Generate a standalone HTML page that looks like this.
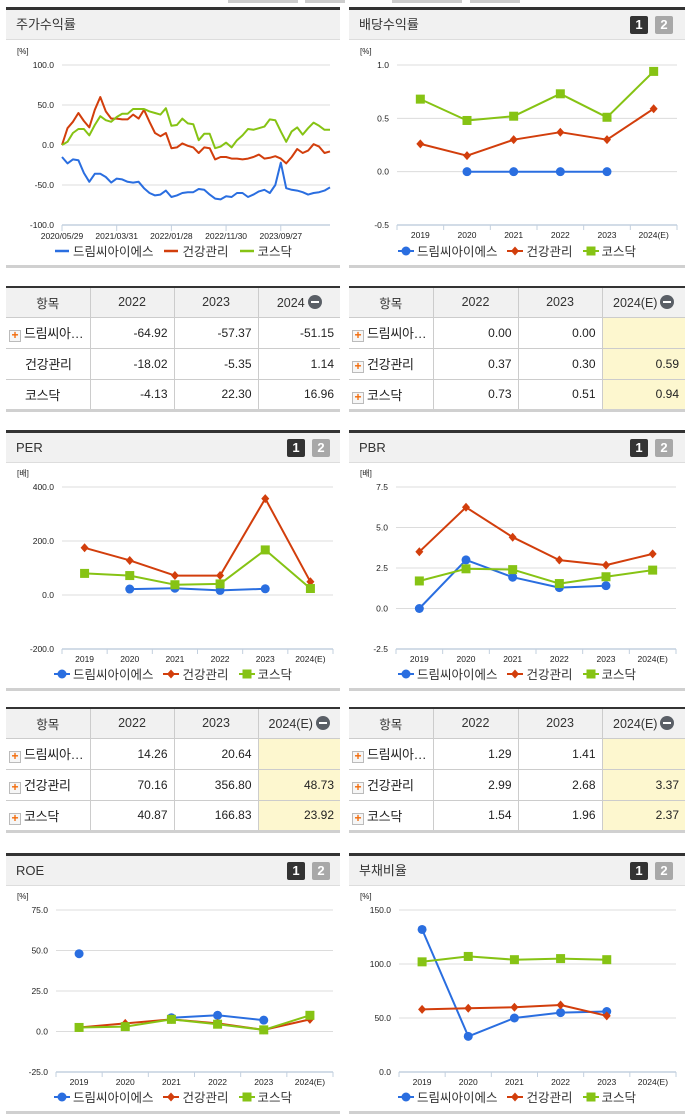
<!DOCTYPE html>
<html><head><meta charset="utf-8">
<style>
*{margin:0;padding:0;box-sizing:border-box}
body{width:691px;height:1115px;position:relative;background:#fff;font-family:"Liberation Sans","Noto Sans CJK KR",sans-serif;overflow:hidden;color:#333}
.abs{position:absolute}
.panel{position:absolute;border-top:3px solid #333;border-bottom:3px solid #d0d0d0}
.hdr{position:absolute;left:0;right:0;top:0;height:30px;background:#f1f1f1;border-bottom:1px solid #ddd;font-size:13px;line-height:30px;padding-left:10px;color:#333}
.b1,.b2{position:absolute;top:6px;width:18px;height:18px;border-radius:2px;color:#fff;font-weight:bold;font-size:13px;line-height:18px;text-align:center}
.b1{background:#333}.b2{background:#a8a8a8}
.legend{position:absolute;left:0;right:0;display:flex;justify-content:center;align-items:center;font-size:12.5px;color:#333;gap:10px}
.legend span{display:flex;align-items:center;gap:3px}
table{position:absolute;border-collapse:collapse;font-size:12px;table-layout:fixed;border-top:2px solid #333;border-bottom:3px solid #d0d0d0}
td,th{border:1px solid #ccc;height:31px;font-weight:normal;white-space:nowrap;overflow:hidden}
th{background:#f1f1f1;text-align:center;height:30px;font-size:12.5px}
td{text-align:right;padding-right:6px;color:#222}
td.nm{text-align:left;padding-left:3px;padding-right:0;font-size:13px;color:#222;letter-spacing:-0.3px}
td.hl{background:#fdf7cf}
tr td:first-child,tr th:first-child{border-left:none}
tr td:last-child,tr th:last-child{border-right:none}
.pl{display:inline-block;width:12px;height:12px;border:1px solid #bbb;background:#f6f6f6;color:#f26b0a;font-size:12px;line-height:9px;text-align:center;font-weight:bold;vertical-align:-1px;margin-right:3px;letter-spacing:0}
.sp{display:inline-block;width:16px}
.mi{display:inline-block;width:14px;height:14px;border-radius:7px;background:#5a5f66;vertical-align:-2px;margin-left:3px;position:relative}
.mi:after{content:"";position:absolute;left:3px;top:6px;width:8px;height:2px;background:#fff}
</style></head><body>
<div class="abs" style="left:228px;top:0;width:70px;height:3px;background:#ccc"></div>
<div class="abs" style="left:305px;top:0;width:40px;height:3px;background:#ccc"></div>
<div class="abs" style="left:392px;top:0;width:70px;height:3px;background:#ccc"></div>
<div class="abs" style="left:470px;top:0;width:50px;height:3px;background:#ccc"></div>

<div class="panel" style="left:6px;top:7px;width:334px;height:261px"><div class="hdr">주가수익률</div></div>
<div class="panel" style="left:349px;top:7px;width:336px;height:261px"><div class="hdr">배당수익률</div><div class="b1" style="left:281px">1</div><div class="b2" style="left:306px">2</div></div>
<div class="panel" style="left:6px;top:430px;width:334px;height:261px"><div class="hdr">PER</div><div class="b1" style="left:281px">1</div><div class="b2" style="left:306px">2</div></div>
<div class="panel" style="left:349px;top:430px;width:336px;height:261px"><div class="hdr">PBR</div><div class="b1" style="left:281px">1</div><div class="b2" style="left:306px">2</div></div>
<div class="panel" style="left:6px;top:853px;width:334px;height:261px"><div class="hdr">ROE</div><div class="b1" style="left:281px">1</div><div class="b2" style="left:306px">2</div></div>
<div class="panel" style="left:349px;top:853px;width:336px;height:261px"><div class="hdr">부채비율</div><div class="b1" style="left:281px">1</div><div class="b2" style="left:306px">2</div></div>

<table style="left:6px;top:286px;width:334px">
<colgroup><col style="width:84px"><col style="width:84px"><col style="width:84px"><col></colgroup>
<tr><th>항목</th><th>2022</th><th>2023</th><th>2024<span class="mi"></span></th></tr>
<tr><td class="nm"><span class="pl">+</span>드림씨아…</td><td>-64.92</td><td>-57.37</td><td>-51.15</td></tr>
<tr><td class="nm"><span class="sp"></span>건강관리</td><td>-18.02</td><td>-5.35</td><td>1.14</td></tr>
<tr><td class="nm"><span class="sp"></span>코스닥</td><td>-4.13</td><td>22.30</td><td>16.96</td></tr>
</table>
<table style="left:349px;top:286px;width:336px">
<colgroup><col style="width:84px"><col style="width:85px"><col style="width:84px"><col></colgroup>
<tr><th>항목</th><th>2022</th><th>2023</th><th>2024(E)<span class="mi"></span></th></tr>
<tr><td class="nm"><span class="pl">+</span>드림씨아…</td><td>0.00</td><td>0.00</td><td class="hl"></td></tr>
<tr><td class="nm"><span class="pl">+</span>건강관리</td><td>0.37</td><td>0.30</td><td class="hl">0.59</td></tr>
<tr><td class="nm"><span class="pl">+</span>코스닥</td><td>0.73</td><td>0.51</td><td class="hl">0.94</td></tr>
</table>
<table style="left:6px;top:707px;width:334px">
<colgroup><col style="width:84px"><col style="width:84px"><col style="width:84px"><col></colgroup>
<tr><th>항목</th><th>2022</th><th>2023</th><th>2024(E)<span class="mi"></span></th></tr>
<tr><td class="nm"><span class="pl">+</span>드림씨아…</td><td>14.26</td><td>20.64</td><td class="hl"></td></tr>
<tr><td class="nm"><span class="pl">+</span>건강관리</td><td>70.16</td><td>356.80</td><td class="hl">48.73</td></tr>
<tr><td class="nm"><span class="pl">+</span>코스닥</td><td>40.87</td><td>166.83</td><td class="hl">23.92</td></tr>
</table>
<table style="left:349px;top:707px;width:336px">
<colgroup><col style="width:84px"><col style="width:85px"><col style="width:84px"><col></colgroup>
<tr><th>항목</th><th>2022</th><th>2023</th><th>2024(E)<span class="mi"></span></th></tr>
<tr><td class="nm"><span class="pl">+</span>드림씨아…</td><td>1.29</td><td>1.41</td><td class="hl"></td></tr>
<tr><td class="nm"><span class="pl">+</span>건강관리</td><td>2.99</td><td>2.68</td><td class="hl">3.37</td></tr>
<tr><td class="nm"><span class="pl">+</span>코스닥</td><td>1.54</td><td>1.96</td><td class="hl">2.37</td></tr>
</table>

<svg id="cv" class="abs" style="left:0;top:0" width="691" height="1115"></svg>

<script>
const retBlue=[-15,-23,-18,-19,-35,-46,-36,-36,-40,-47,-42,-43,-46,-47,-46,-54,-60,-63,-62,-57,-65,-63,-60,-59,-59,-55,-56,-62,-67,-68,-64,-65,-60,-60,-65,-62,-58,-56,-60,-50,-22,-54,-56,-57,-59,-62,-60,-59,-57,-53];
const retRed=[0,21,29,40,30,22,44,60,42,33,33,32,32,38,33,44,29,15,11,15,-4,-3,2,-1,-3,-10,-3,-4,-18,-15,-15,-17,-17,-18,-17,-15,-12,-17,-16,-14,-17,-23,-15,-5,-10,-7,1,-2,-10,-8];
const retGreen=[0,4,15,20,20,12,25,36,31,29,35,39,39,45,45,45,42,40,38,46,24,25,33,27,26,6,14,14,-4,-2,3,-3,6,12,20,19,21,23,32,31,17,4,17,22,13,21,28,24,19,19];
const retTickLabels=['2020/05/29','2021/03/31','2022/01/28','2022/11/30','2023/09/27'];
const retTickIdx=[0,10,20,30,40];
const retYTicks=[100,50,0,-50,-100];
const years=['2019','2020','2021','2022','2023','2024(E)'];
const divBlue=[null,0,0,0,0,null];
const divRed=[0.26,0.15,0.30,0.37,0.30,0.59];
const divGreen=[0.68,0.48,0.52,0.73,0.51,0.94];
const divYTicks=[1.0,0.5,0.0,-0.5];
const perBlue=[null,22,25,17,23,null];
const perRed=[175,128,72,72,357,49];
const perGreen=[80,72,38,41,167,24];
const perYTicks=[400,200,0,-200];
const pbrBlue=[0,3.0,1.93,1.29,1.41,null];
const pbrRed=[3.5,6.25,4.4,2.99,2.68,3.37];
const pbrGreen=[1.7,2.45,2.4,1.54,1.96,2.37];
const pbrYTicks=[7.5,5.0,2.5,0.0,-2.5];
const roeBlue=[48,null,8.5,10,7,null];
const roeRed=[2.5,5,7.5,5,1,7.5];
const roeGreen=[2.5,3,7.5,4.5,1,10];
const roeYTicks=[75,50,25,0,-25];
const debtBlue=[132,33,50,55,56,null];
const debtRed=[58,59,60,62,52,null];
const debtGreen=[102,107,104,105,104,null];
const debtYTicks=[150,100,50,0];
const seriesNames=['드림씨아이에스','건강관리','코스닥'];

const C={blue:'#2a6ee0',red:'#d23e0c',green:'#86c314'};
const NS='http://www.w3.org/2000/svg';
const cv=document.getElementById('cv');
function mk(tag,parent,attrs){const e=document.createElementNS(NS,tag);for(const k in attrs)e.setAttribute(k,attrs[k]);parent.appendChild(e);return e;}
function txt(parent,x,y,s,anchor,size){const t=mk('text',parent,{x:x,y:y,'text-anchor':anchor,'font-size':size,fill:'#222','font-family':'Liberation Sans, sans-serif'});t.textContent=s;return t;}

function marker(g,kind,x,y,col){
  let m;
  if(kind==='circle')m=mk('circle',g,{cx:x,cy:y,r:4.5,fill:col});
  else if(kind==='diamond')m=mk('path',g,{d:`M${x} ${y-4.5}L${x+4} ${y}L${x} ${y+4.5}L${x-4} ${y}Z`,fill:col});
  else m=mk('rect',g,{x:x-4.5,y:y-4.5,width:9,height:9,fill:col});
  
  
}
function seriesLine(g,pts,col,name){
  let d='';let pen=false;
  pts.forEach(p=>{if(p==null){pen=false;return;}d+=(pen?'L':'M')+p[0].toFixed(1)+' '+p[1].toFixed(1);pen=true;});
  const l=mk('path',g,{d:d,fill:'none',stroke:col,'stroke-width':2,'stroke-linejoin':'round'});
  
  
}
function axesY(g,cfg,ticks,unit){
  const y=v=>cfg.yt+(cfg.vmax-v)/(cfg.vmax-cfg.vmin)*(cfg.yb-cfg.yt);
  ticks.forEach(v=>{
    if(v!==cfg.vmin){const gl=mk('line',g,{x1:cfg.x0,x2:cfg.x1,y1:y(v),y2:y(v),stroke:'#dcdcdc','stroke-width':1});
    
    }
    const t=txt(g,cfg.x0-8,y(v)+3,v.toFixed(1),'end',8.5);
    
    
  });
  const u=txt(g,cfg.ux,cfg.yt-11,unit,'start',8);
  
  
  const ax=mk('line',g,{x1:cfg.x0,x2:cfg.x1,y1:cfg.yb,y2:cfg.yb,stroke:'#c3d0df','stroke-width':1.5});
  
  
  return y;
}
function legend(cfg,kinds,lineOnly){
  const d=document.createElement('div');
  d.className='legend';
  d.style.top=(cfg.ly-8)+'px';d.style.left=cfg.lx0+'px';d.style.width=(cfg.lx1-cfg.lx0)+'px';d.style.right='auto';
  
  
  const cols=[C.blue,C.red,C.green];
  seriesNames.forEach((n,i)=>{
    const s=document.createElement('span');
    
    
    let sym;
    if(lineOnly)sym=`<svg width="16" height="10"><line x1="1" y1="5" x2="15" y2="5" stroke="${cols[i]}" stroke-width="2.5"/></svg>`;
    else{const k=kinds[i];let m=k==='circle'?`<circle cx="8" cy="5" r="4.5" fill="${cols[i]}"/>`:k==='diamond'?`<path d="M8 0.5L12 5L8 9.5L4 5Z" fill="${cols[i]}"/>`:`<rect x="3.5" y="0.5" width="9" height="9" fill="${cols[i]}"/>`;
      sym=`<svg width="16" height="10"><line x1="0" y1="5" x2="16" y2="5" stroke="${cols[i]}" stroke-width="2"/>${m}</svg>`;}
    s.innerHTML=sym+n;
    d.appendChild(s);
  });
  document.body.appendChild(d);
}
function catChart(name,cfg,ticks,unit,b,r,gr){
  const g=mk('g',cv,{});
  
  
  const y=axesY(g,cfg,ticks,unit);
  const bw=(cfg.x1-cfg.x0)/years.length;
  const x=i=>cfg.x0+bw*(i+0.5);
  for(let i=0;i<=years.length;i++){const t=mk('line',g,{x1:cfg.x0+bw*i,x2:cfg.x0+bw*i,y1:cfg.yb,y2:cfg.yb+5,stroke:'#c3d0df','stroke-width':1});
    
    }
  years.forEach((s,i)=>{const t=txt(g,x(i),cfg.yb+13,s,'middle',8.5);
    
    });
  [[b,C.blue,'circle','series-드림씨아이에스'],[r,C.red,'diamond','series-건강관리'],[gr,C.green,'square','series-코스닥']].forEach(([arr,col,k,nm])=>{
    const pts=arr.map((v,i)=>v==null?null:[x(i),y(v)]);
    seriesLine(g,pts,col,nm);
    pts.forEach(p=>{if(p)marker(g,k,p[0],p[1],col);});
  });
  legend(cfg,['circle','diamond','square'],false);
}

(function(){
  const cfg={x0:62,x1:330,yt:65,yb:225,vmax:100,vmin:-100,ux:17,ly:249,lx0:6,lx1:340};
  const g=mk('g',cv,{});
  
  
  const y=axesY(g,cfg,retYTicks,'[%]');
  const n=retBlue.length;
  const x=i=>cfg.x0+i*(cfg.x1-cfg.x0)/(n-1);
  retTickIdx.forEach((idx,j)=>{
    const t=mk('line',g,{x1:x(idx),x2:x(idx),y1:cfg.yb,y2:cfg.yb+6,stroke:'#c3d0df','stroke-width':1});
    
    
    const l=txt(g,x(idx),cfg.yb+14,retTickLabels[j],'middle',8.5);
    
    
  });
  seriesLine(g,retBlue.map((v,i)=>[x(i),y(v)]),C.blue,'series-드림씨아이에스');
  seriesLine(g,retRed.map((v,i)=>[x(i),y(v)]),C.red,'series-건강관리');
  seriesLine(g,retGreen.map((v,i)=>[x(i),y(v)]),C.green,'series-코스닥');
  legend(cfg,null,true);
})();
catChart('dividend-chart',{x0:397,x1:677,yt:65,yb:225,vmax:1.0,vmin:-0.5,ux:360,ly:249,lx0:349,lx1:685},divYTicks,'[%]',divBlue,divRed,divGreen);
catChart('per-chart',{x0:62,x1:333,yt:487,yb:649,vmax:400,vmin:-200,ux:17,ly:672,lx0:6,lx1:340},perYTicks,'[배]',perBlue,perRed,perGreen);
catChart('pbr-chart',{x0:396,x1:676,yt:487,yb:649,vmax:7.5,vmin:-2.5,ux:360,ly:672,lx0:349,lx1:685},pbrYTicks,'[배]',pbrBlue,pbrRed,pbrGreen);
catChart('roe-chart',{x0:56,x1:333,yt:910,yb:1072,vmax:75,vmin:-25,ux:17,ly:1095,lx0:6,lx1:340},roeYTicks,'[%]',roeBlue,roeRed,roeGreen);
catChart('debt-ratio-chart',{x0:399,x1:676,yt:910,yb:1072,vmax:150,vmin:0,ux:360,ly:1095,lx0:349,lx1:685},debtYTicks,'[%]',debtBlue,debtRed,debtGreen);
</script>
</body></html>
